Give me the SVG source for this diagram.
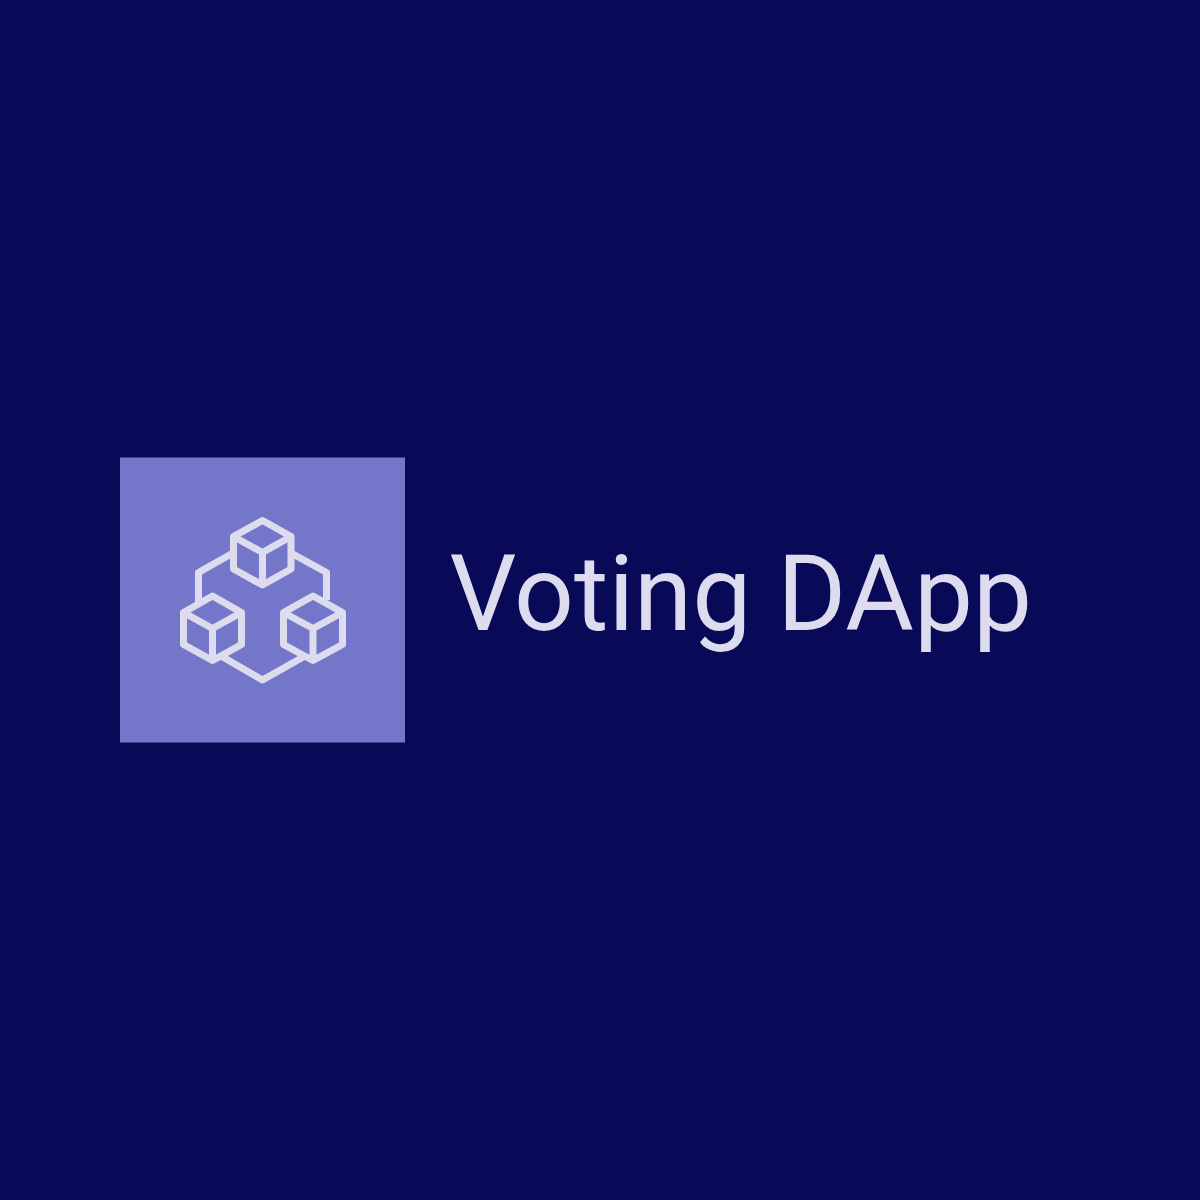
<svg xmlns="http://www.w3.org/2000/svg" width="1200" height="1200" viewBox="0 0 1200 1200">
<style>
.l{fill:none;stroke:#dddcee;stroke-width:7;stroke-linejoin:round;stroke-linecap:butt}
.t{font-family:Roboto,"Liberation Sans",sans-serif;font-size:105.2px;fill:#dddcee}
</style>
<rect width="1200" height="1200" fill="#080a58"/>
<g id="logo-panel"><rect x="120" y="457.500" width="285" height="285" fill="#7477c9"/></g>
<g id="connectors">
<path class="l" d="M233 553L198.500 572.500V602"/>
<path class="l" d="M291 553L326.500 572.500V600"/>
<path class="l" d="M221 656L262.500 680L305 656"/>
</g>
<g id="cube-top"><path class="l" d="M262.500 520.500L291 536.500V569L262.500 585L233.500 569V536.500ZM233.500 536.500L262.500 552.500L291 536.500M262.500 552.500V585"/></g>
<g id="cube-left"><path class="l" d="M212.500 596L241.500 612.500V644.500L212.500 660.500L183.500 644.500V612.500ZM183.500 612.500L212.500 628.500L241.500 612.500M212.500 628.500V660.500"/></g>
<g id="cube-right"><path class="l" d="M313 596L342.500 612.500V644.500L313 660.500L283.500 644.500V612.500ZM283.500 612.500L313 628.500L342.500 612.500M313 628.500V660.500"/></g>
<g id="title"><text class="t" x="449.500" y="630">Voting DApp</text></g>
</svg>
